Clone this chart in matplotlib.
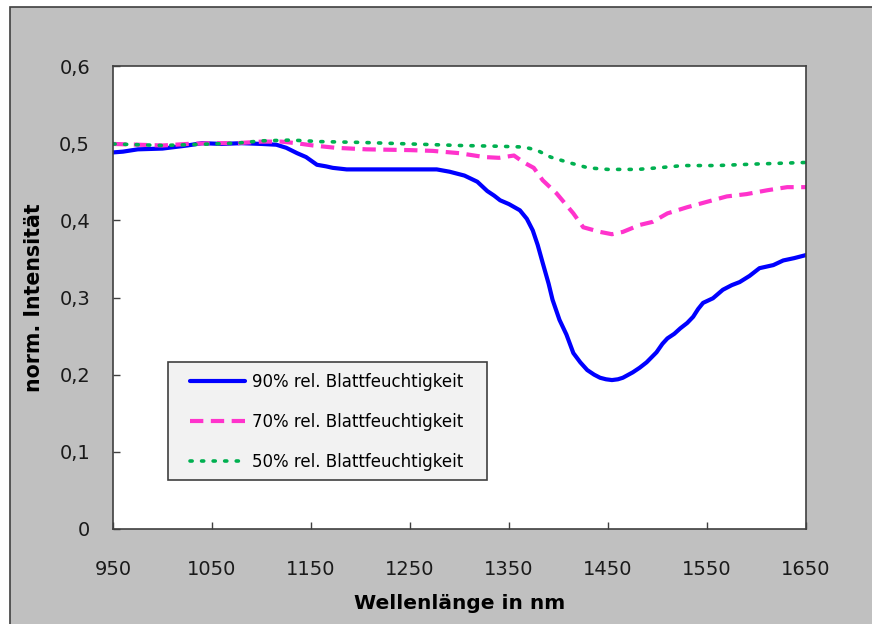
import matplotlib
matplotlib.use("Agg")
import matplotlib.pyplot as plt
from matplotlib.patches import Rectangle
from matplotlib.ticker import FuncFormatter

# ---- data ----
wl_90 = [950, 960, 975, 1000, 1025, 1040, 1060, 1080, 1100, 1115, 1125, 1136, 1145, 1156, 1165,
         1172, 1186, 1200, 1250, 1277, 1290, 1305, 1318, 1328, 1335, 1341, 1350, 1361, 1368, 1374,
         1379, 1384, 1390, 1394, 1401, 1408, 1415, 1422, 1429, 1436, 1442, 1448, 1454, 1460, 1465,
         1475, 1482, 1489, 1499, 1505, 1510, 1517, 1523, 1530, 1536, 1541, 1546, 1556, 1566, 1575,
         1583, 1593, 1603, 1610, 1617, 1627, 1638, 1650]
int_90 = [0.488, 0.489, 0.492, 0.493, 0.497, 0.500, 0.499, 0.500, 0.499, 0.498, 0.494, 0.487, 0.482,
          0.472, 0.470, 0.468, 0.466, 0.466, 0.466, 0.466, 0.463, 0.458, 0.450, 0.438, 0.432, 0.426,
          0.421, 0.413, 0.402, 0.387, 0.368, 0.345, 0.318, 0.297, 0.271, 0.252, 0.228, 0.216, 0.206,
          0.200, 0.196, 0.194, 0.193, 0.194, 0.196, 0.203, 0.209, 0.216, 0.229, 0.240, 0.247, 0.253,
          0.260, 0.267, 0.275, 0.285, 0.293, 0.299, 0.310, 0.316, 0.320, 0.328, 0.338, 0.340, 0.342,
          0.348, 0.351, 0.355]

wl_70 = [950, 975, 1000, 1025, 1050, 1075, 1100, 1120, 1135, 1152, 1175, 1206, 1250, 1273, 1300,
         1325, 1340, 1355, 1365, 1375, 1384, 1398, 1415, 1425, 1442, 1454, 1465, 1482, 1495, 1510,
         1530, 1550, 1570, 1590, 1611, 1631, 1650]
int_70 = [0.499, 0.498, 0.497, 0.499, 0.500, 0.500, 0.502, 0.502, 0.500, 0.497, 0.494, 0.492, 0.491,
          0.490, 0.487, 0.482, 0.481, 0.484, 0.475, 0.468, 0.452, 0.435, 0.409, 0.391, 0.385, 0.382,
          0.385, 0.394, 0.398, 0.409, 0.417, 0.424, 0.431, 0.434, 0.439, 0.443, 0.443]

wl_50 = [950, 975, 1000, 1025, 1050, 1075, 1100, 1130, 1160, 1200, 1250, 1300, 1340, 1365, 1378,
         1392, 1410, 1430, 1450, 1480, 1500, 1526, 1560, 1600, 1650]
int_50 = [0.499, 0.498, 0.497, 0.498, 0.499, 0.500, 0.503, 0.504, 0.502, 0.501, 0.499, 0.497, 0.496,
          0.495, 0.491, 0.482, 0.475, 0.468, 0.466, 0.466, 0.468, 0.471, 0.471, 0.473, 0.475]

labels = ["90% rel. Blattfeuchtigkeit", "70% rel. Blattfeuchtigkeit", "50% rel. Blattfeuchtigkeit"]
x_ticks = [950, 1050, 1150, 1250, 1350, 1450, 1550, 1650]
y_ticks = [0, 0.1, 0.2, 0.3, 0.4, 0.5, 0.6]

plt.rcParams['font.family'] = ['DejaVu Sans']

W, H = 872, 624
AX_L, AX_T, AX_R, AX_B = 113, 66, 806, 529
AW, AH = AX_R - AX_L, AX_B - AX_T

fig = plt.figure(figsize=(W / 100, H / 100), dpi=100)
fig.patch.set_facecolor('white')

# grey chart frame
fig.patches.append(Rectangle((10 / W, -0.05), 1.2, 1 - 7 / H + 0.05, transform=fig.transFigure,
                             facecolor='#c0c0c0', edgecolor='#404040', linewidth=1.2, zorder=-10))

ax = fig.add_axes([AX_L / W, 1 - AX_B / H, AW / W, AH / H])
ax.set_zorder(5)
ax.set_facecolor('white')

ax.plot(wl_90, int_90, color='#0000ff', lw=3.0, solid_capstyle='round', label=labels[0])
ax.plot(wl_70, int_70, color='#ff33cc', lw=3.0, dashes=(3.2, 1.8), label=labels[1])
ax.plot(wl_50, int_50, color='#00b050', lw=2.6, dashes=(0.6, 2.6), dash_capstyle='round',
        label=labels[2])

ax.set_xlim(950, 1650)
ax.set_ylim(0, 0.6)
ax.set_xticks(x_ticks)
ax.set_yticks(y_ticks)
ax.yaxis.set_major_formatter(FuncFormatter(lambda v, p: ('%g' % v).replace('.', ',')))
ax.tick_params(direction='in', length=5, width=1, colors='#404040', labelcolor='#1a1a1a',
               labelsize=14)
ax.tick_params(axis='x', pad=22)
ax.tick_params(axis='y', pad=16.5)
for s in ax.spines.values():
    s.set_color('#404040')
    s.set_linewidth(1.2)

ax.set_xlabel('Wellenlänge in nm', fontsize=14.5, fontweight='bold', labelpad=11)
ax.set_ylabel('norm. Intensität', fontsize=14.8, fontweight='bold', labelpad=11)

# legend box (frame drawn separately for exact padding)
LB_L, LB_T, LB_R, LB_B = 168, 362, 487, 480
ax.add_patch(Rectangle(((LB_L - AX_L) / AW, (AX_B - LB_B) / AH), (LB_R - LB_L) / AW,
                       (LB_B - LB_T) / AH, transform=ax.transAxes, facecolor='#f2f2f2',
                       edgecolor='#404040', linewidth=1.2, zorder=4))
leg = ax.legend(loc='upper left', bbox_to_anchor=((190 - AX_L) / AW, (AX_B - 373) / AH),
                frameon=False, fontsize=12, handlelength=3.3, handletextpad=0.42,
                labelspacing=1.32, borderpad=0, borderaxespad=0)
leg.set_zorder(6)

fig.savefig('out.png', dpi=100)
